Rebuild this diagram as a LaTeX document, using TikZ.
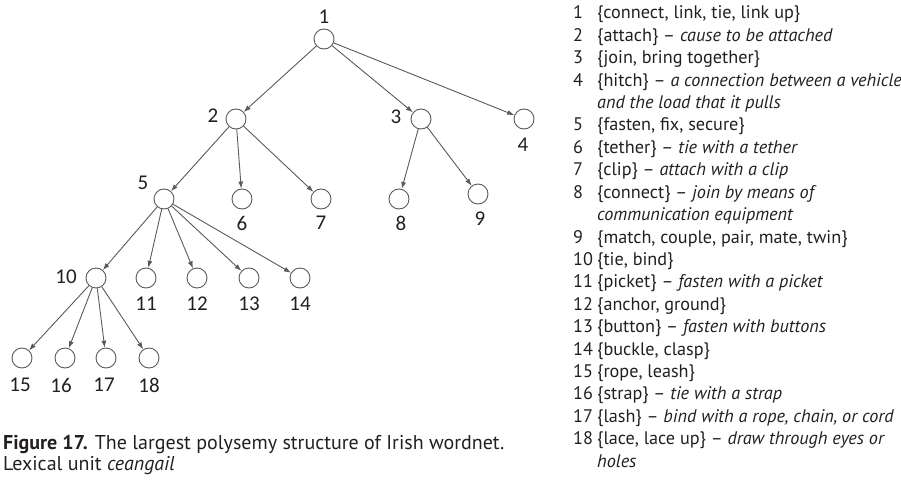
\documentclass[tikz,border=0pt]{standalone}
\usepackage{fontspec}
\setmainfont{PT Sans}
\newfontfamily\treefont{Carlito}
\usetikzlibrary{arrows.meta}
\definecolor{ink}{HTML}{231F20}
\definecolor{edge}{HTML}{5A5A5A}
\begin{document}
\begin{tikzpicture}[x=1pt,y=-1pt,
  sense/.style={circle,draw=edge,line width=0.9pt,minimum size=20pt,inner sep=0pt},
  num/.style={font=\treefont\fontsize{21}{21}\selectfont,text=ink,inner sep=0pt},
  link/.style={draw=edge,line width=0.9pt,-{Latex[length=7pt,width=5pt]}},
  legnum/.style={anchor=base west,inner sep=0pt,text=ink,font=\fontsize{18.2}{20}\selectfont},
  legtext/.style={anchor=base west,inner sep=0pt,text=ink,font=\fontsize{18.2}{20}\selectfont},
  capt/.style={anchor=base west,inner sep=0pt,text=ink,font=\fontsize{20}{21}\selectfont}]
\useasboundingbox (0,0) rectangle (901,484);

% sense nodes of the tree
\node[sense] (n1)  at (324,39)  {};
\node[sense] (n2)  at (236,119) {};
\node[sense] (n3)  at (421,119) {};
\node[sense] (n4)  at (524,119) {};
\node[sense] (n5)  at (164,199) {};
\node[sense] (n6)  at (242,199) {};
\node[sense] (n7)  at (321,199) {};
\node[sense] (n8)  at (399,199) {};
\node[sense] (n9)  at (478,194) {};
\node[sense] (n10) at (96,278)  {};
\node[sense] (n11) at (146,278) {};
\node[sense] (n12) at (197,278) {};
\node[sense] (n13) at (249,278) {};
\node[sense] (n14) at (300,278) {};
\node[sense] (n15) at (22,358)  {};
\node[sense] (n16) at (65,358)  {};
\node[sense] (n17) at (106,358) {};
\node[sense] (n18) at (149,358) {};

% sense numbers
\node[num] (l1)  at (324,17)  {1};
\node[num] (l2)  at (213,116) {2};
\node[num] (l3)  at (396,117) {3};
\node[num] (l4)  at (523,145) {4};
\node[num] (l5)  at (143,183) {5};
\node[num] (l6)  at (242,223) {6};
\node[num] (l7)  at (321,223) {7};
\node[num] (l8)  at (401,223) {8};
\node[num] (l9)  at (480,219) {9};
\node[num] (l10) at (66,277)  {10};
\node[num] (l11) at (146,304) {11};
\node[num] (l12) at (197,304) {12};
\node[num] (l13) at (249,304) {13};
\node[num] (l14) at (300,304) {14};
\node[num] (l15) at (20,385)  {15};
\node[num] (l16) at (61,385)  {16};
\node[num] (l17) at (104,385) {17};
\node[num] (l18) at (149,385) {18};

% hypernym links
\foreach \p/\c in {n1/n2,n1/n3,n1/n4,n2/n5,n2/n6,n2/n7,n3/n8,n3/n9,
                   n5/n10,n5/n11,n5/n12,n5/n13,n5/n14,
                   n10/n15,n10/n16,n10/n17,n10/n18}
  \draw[link] (\p) -- (\c);

% caption
\node[capt] (cap1) at (3,449) {\textbf{Figure 17.} The largest polysemy structure of Irish wordnet.};
\node[capt] (cap2) at (3,470) {Lexical unit \textit{ceangail}};

% legend of senses
\node[legnum] (k1)  at (573,{19+22.4*0})  {1};
\node[legtext] (t1) at (597,{19+22.4*0})  {\{connect, link, tie, link up\}};
\node[legnum] (k2)  at (573,{19+22.4*1})  {2};
\node[legtext] (t2) at (597,{19+22.4*1})  {\{attach\} -- \textit{cause to be attached}};
\node[legnum] (k3)  at (573,{19+22.4*2})  {3};
\node[legtext] (t3) at (597,{19+22.4*2})  {\{join, bring together\}};
\node[legnum] (k4)  at (573,{19+22.4*3})  {4};
\node[legtext] (t4) at (597,{19+22.4*3})  {\{hitch\} -- \textit{a connection between a vehicle}};
\node[legtext] (t4b) at (597,{19+22.4*4}) {\textit{and the load that it pulls}};
\node[legnum] (k5)  at (573,{19+22.4*5})  {5};
\node[legtext] (t5) at (597,{19+22.4*5})  {\{fasten, fix, secure\}};
\node[legnum] (k6)  at (573,{19+22.4*6})  {6};
\node[legtext] (t6) at (597,{19+22.4*6})  {\{tether\} -- \textit{tie with a tether}};
\node[legnum] (k7)  at (573,{19+22.4*7})  {7};
\node[legtext] (t7) at (597,{19+22.4*7})  {\{clip\} -- \textit{attach with a clip}};
\node[legnum] (k8)  at (573,{19+22.4*8})  {8};
\node[legtext] (t8) at (597,{19+22.4*8})  {\{connect\} -- \textit{join by means of}};
\node[legtext] (t8b) at (597,{19+22.4*9}) {\textit{communication equipment}};
\node[legnum] (k9)  at (573,{19+22.4*10}) {9};
\node[legtext] (t9) at (597,{19+22.4*10}) {\{match, couple, pair, mate, twin\}};
\node[legnum] (k10) at (573,{19+22.4*11}) {10};
\node[legtext] (t10) at (597,{19+22.4*11}) {\{tie, bind\}};
\node[legnum] (k11) at (573,{19+22.4*12}) {11};
\node[legtext] (t11) at (597,{19+22.4*12}) {\{picket\} -- \textit{fasten with a picket}};
\node[legnum] (k12) at (573,{19+22.4*13}) {12};
\node[legtext] (t12) at (597,{19+22.4*13}) {\{anchor, ground\}};
\node[legnum] (k13) at (573,{19+22.4*14}) {13};
\node[legtext] (t13) at (597,{19+22.4*14}) {\{button\} -- \textit{fasten with buttons}};
\node[legnum] (k14) at (573,{19+22.4*15}) {14};
\node[legtext] (t14) at (597,{19+22.4*15}) {\{buckle, clasp\}};
\node[legnum] (k15) at (573,{19+22.4*16}) {15};
\node[legtext] (t15) at (597,{19+22.4*16}) {\{rope, leash\}};
\node[legnum] (k16) at (573,{19+22.4*17}) {16};
\node[legtext] (t16) at (597,{19+22.4*17}) {\{strap\} -- \textit{tie with a strap}};
\node[legnum] (k17) at (573,{19+22.4*18}) {17};
\node[legtext] (t17) at (597,{19+22.4*18}) {\{lash\} -- \textit{bind with a rope, chain, or cord}};
\node[legnum] (k18) at (573,{19+22.4*19}) {18};
\node[legtext] (t18) at (597,{19+22.4*19}) {\{lace, lace up\} -- \textit{draw through eyes or}};
\node[legtext] (t18b) at (597,{19+22.4*20}) {\textit{holes}};
\end{tikzpicture}
\end{document}
